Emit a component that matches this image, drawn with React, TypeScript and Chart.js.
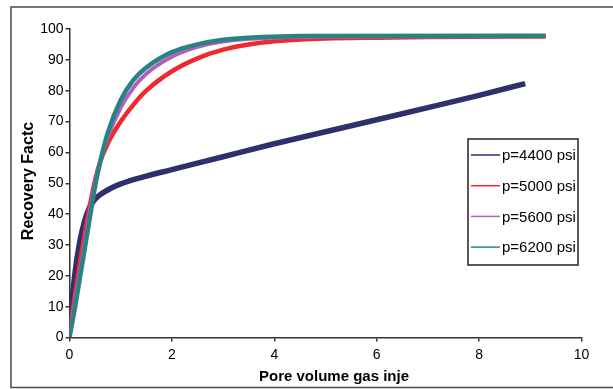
import React, { useEffect, useRef } from "react";
import { Chart, registerables } from "chart.js";

Chart.register(...registerables);

const seriesLabels = ["p=4400 psi", "p=5000 psi", "p=5600 psi", "p=6200 psi"];
const seriesColors = ["#2F2F6B", "#EE2A2A", "#B060C0", "#2A8282"];

const x4400 = [0, 0.05, 0.1, 0.2, 0.3, 0.4, 0.5, 0.6, 0.8, 1.0, 1.5, 2, 3, 4, 5, 6, 7, 8, 8.9];
const y4400 = [3, 12, 20, 31, 38, 42.5, 44.8, 46.3, 48.3, 49.8, 52.3, 54.4, 58.6, 62.8, 66.7, 70.6, 74.5, 78.5, 82.3];

const x5000 = [0, 0.1, 0.2, 0.3, 0.4, 0.5, 0.6, 0.75, 1, 1.25, 1.5, 2, 2.5, 3, 3.5, 4, 5, 6, 7, 9.3];
const y5000 = [2, 13, 24, 34, 43, 51, 57, 63, 70, 75.5, 80, 86.3, 90.5, 93.3, 95, 96, 96.9, 97.2, 97.4, 97.6];

const x5600 = [0, 0.1, 0.2, 0.3, 0.4, 0.5, 0.6, 0.75, 1, 1.25, 1.5, 2, 2.5, 3, 3.5, 4, 5, 9.3];
const y5600 = [1, 11, 21, 31, 41, 50, 57, 65, 74.5, 81, 85.5, 91, 94.2, 95.9, 96.8, 97.2, 97.5, 97.7];

const x6200 = [0, 0.1, 0.2, 0.3, 0.4, 0.5, 0.6, 0.75, 1, 1.25, 1.5, 2, 2.5, 3, 3.5, 4, 4.5, 9.3];
const y6200 = [0, 9, 19, 29, 39, 49, 57, 66.5, 77, 83.5, 87.5, 92.5, 95, 96.5, 97.2, 97.5, 97.7, 97.8];

const xTitle = "Pore volume gas inje";
const yTitle = "Recovery Factc";

const seriesX = [x4400, x5000, x5600, x6200];
const seriesY = [y4400, y5000, y5600, y6200];
const drawOrder = [4, 3, 2, 1];
const lineWidths = [5.5, 4.5, 4, 4.5];

const FONT = "'Liberation Sans', Arial, sans-serif";

const decorPlugin = {
  id: "decor",
  beforeDraw(chart: any) {
    const ctx = chart.ctx;
    ctx.save();
    ctx.fillStyle = "#ffffff";
    ctx.fillRect(0, 0, chart.width, chart.height);
    ctx.strokeStyle = "#4a4a4a";
    ctx.lineWidth = 1.5;
    ctx.strokeRect(11, 7, chart.width + 10, 380.5);
    ctx.restore();
  },
  afterDraw(chart: any) {
    const ctx = chart.ctx;
    ctx.save();
    ctx.fillStyle = "#000";
    ctx.font = `bold 15px ${FONT}`;
    ctx.textAlign = "center";
    ctx.textBaseline = "middle";
    ctx.fillText(xTitle, 334, 377);
    ctx.save();
    ctx.font = `bold 16px ${FONT}`;
    ctx.translate(28.5, 181);
    ctx.rotate(-Math.PI / 2);
    ctx.fillText(yTitle, 0, 0);
    ctx.restore();

    // legend
    const lx = 468, ly = 139, lw = 110, lh = 126;
    ctx.fillStyle = "#ffffff";
    ctx.fillRect(lx, ly, lw, lh);
    ctx.strokeStyle = "#222";
    ctx.lineWidth = 1.5;
    ctx.strokeRect(lx, ly, lw, lh);
    ctx.font = `15px ${FONT}`;
    ctx.textAlign = "left";
    chart.data.datasets.forEach((ds: any, i: number) => {
      const yy = 155 + i * 30.7;
      ctx.strokeStyle = ds.borderColor;
      ctx.lineWidth = 1.5;
      ctx.beginPath();
      ctx.moveTo(471, yy);
      ctx.lineTo(500, yy);
      ctx.stroke();
      ctx.fillStyle = "#000";
      ctx.fillText(ds.label, 502, yy + 1);
    });
    ctx.restore();
  },
};

export default function App() {
  const ref = useRef<HTMLCanvasElement | null>(null);
  useEffect(() => {
    if (!ref.current) return;
    const datasets = seriesLabels.map((label, i) => ({
      label,
      data: seriesX[i].map((x, j) => ({ x, y: seriesY[i][j] })),
      borderColor: seriesColors[i],
      backgroundColor: seriesColors[i],
      borderWidth: lineWidths[i],
      pointRadius: 0,
      cubicInterpolationMode: "monotone" as const,
      fill: false,
      order: drawOrder[i],
    }));
    const chart = new Chart(ref.current, {
      type: "line",
      data: { datasets },
      plugins: [decorPlugin],
      options: {
        animation: false,
        responsive: false,
        maintainAspectRatio: false,
        layout: { padding: { top: 29, right: 31.5, left: 0, bottom: 0 } },
        plugins: { legend: { display: false }, tooltip: { enabled: false } },
        scales: {
          x: {
            type: "linear",
            min: 0,
            max: 10,
            ticks: { stepSize: 2, color: "#000", font: { family: FONT, size: 14 }, padding: 5, maxRotation: 0 },
            grid: { display: true, drawOnChartArea: false, drawTicks: true, tickLength: 4, color: "#333", lineWidth: 1.5 },
            border: { display: true, color: "#333", width: 1.5 },
            afterFit: (s: any) => { s.height = 51.5; },
          },
          y: {
            type: "linear",
            min: 0,
            max: 100,
            ticks: { stepSize: 10, color: "#000", font: { family: FONT, size: 14 }, padding: 2 },
            grid: { display: true, drawOnChartArea: false, drawTicks: true, tickLength: 4, color: "#333", lineWidth: 1.5 },
            border: { display: true, color: "#333", width: 1.5 },
            afterFit: (s: any) => { s.width = 69.5; },
          },
        },
      },
    });
    return () => chart.destroy();
  }, []);
  return (
    <div style={{ position: "absolute", left: 0, top: 0, width: 613, height: 389 }}>
      <canvas ref={ref} width={613} height={389} style={{ width: 613, height: 389, display: "block" }} />
    </div>
  );
}
